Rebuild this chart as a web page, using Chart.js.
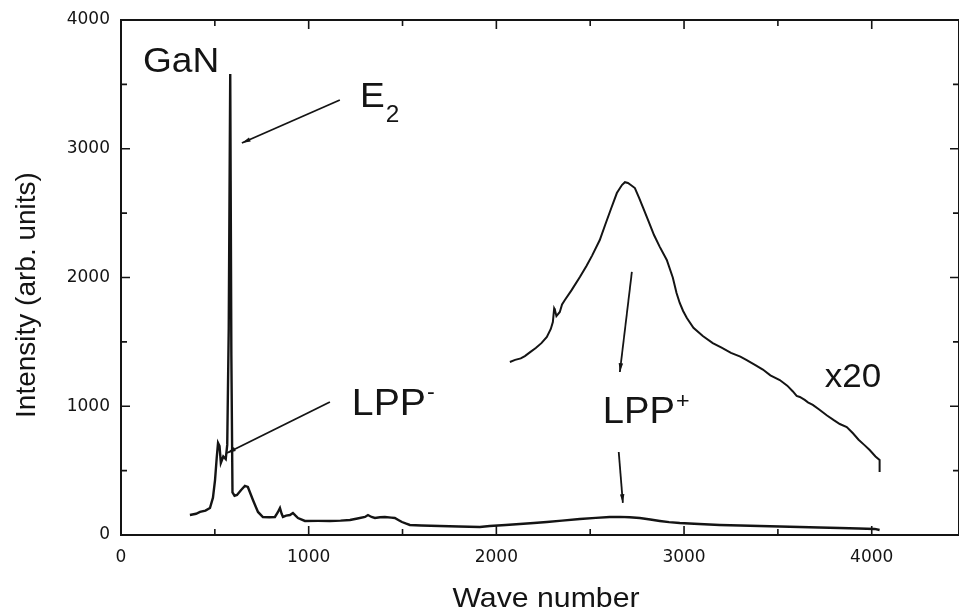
<!DOCTYPE html>
<html>
<head>
<meta charset="utf-8">
<script src="https://cdn.jsdelivr.net/npm/chart.js@4/dist/chart.umd.min.js"></script>
<style>
  html, body { margin: 0; padding: 0; background: #fff; }
  #wrap { width: 959px; height: 614px; }
</style>
</head>
<body>
<div id="wrap"><canvas id="chart" width="959" height="614"></canvas></div>
<script>
// raman spectrum
const mainWave = [367, 400, 421, 450, 474, 490, 501, 510, 517, 525, 532, 545, 558, 566, 574, 582, 588, 594, 605, 618, 640, 660, 676, 690, 703, 718, 730, 756, 790, 820, 835, 847, 856, 863, 880, 900, 916, 930, 943, 980, 1050, 1113, 1170, 1220, 1260, 1300, 1316, 1335, 1353, 1380, 1406, 1440, 1459, 1480, 1497, 1520, 1539, 1600, 1699, 1800, 1912, 1965, 2050, 2125, 2200, 2269, 2350, 2445, 2530, 2604, 2658, 2710, 2764, 2820, 2871, 2920, 2977, 3080, 3190, 3300, 3403, 3510, 3617, 3720, 3830, 3930, 4016, 4042];
const mainIntensity = [155, 165, 179, 190, 210, 290, 427, 600, 715, 690, 560, 610, 590, 700, 1600, 3580, 1400, 330, 305, 311, 350, 381, 373, 320, 272, 220, 179, 140, 138, 140, 175, 210, 165, 140, 150, 155, 171, 150, 132, 109, 110, 109, 112, 117, 128, 140, 155, 140, 132, 138, 140, 135, 132, 115, 101, 88, 78, 74, 70, 66, 62, 70, 78, 85, 93, 101, 112, 124, 133, 140, 141, 138, 132, 120, 109, 100, 93, 85, 78, 74, 70, 66, 62, 58, 54, 50, 47, 39];

// same region multiplied by 20
const scaledWave = [2072, 2100, 2130, 2152, 2180, 2210, 2240, 2269, 2290, 2301, 2308, 2312, 2320, 2338, 2350, 2365, 2400, 2445, 2480, 2510, 2551, 2580, 2610, 2642, 2669, 2685, 2701, 2720, 2738, 2760, 2780, 2810, 2840, 2870, 2908, 2940, 2960, 2977, 2995, 3015, 3050, 3100, 3153, 3200, 3250, 3300, 3334, 3380, 3420, 3460, 3510, 3550, 3580, 3600, 3617, 3643, 3660, 3686, 3720, 3760, 3800, 3830, 3867, 3900, 3930, 3960, 3989, 4020, 4042, 4042];
const scaledIntensity = [1344, 1360, 1372, 1390, 1420, 1452, 1490, 1538, 1600, 1654, 1760, 1748, 1700, 1732, 1790, 1825, 1900, 2004, 2090, 2170, 2291, 2410, 2530, 2656, 2718, 2740, 2734, 2715, 2695, 2620, 2548, 2440, 2330, 2240, 2136, 2000, 1880, 1802, 1740, 1685, 1610, 1545, 1491, 1455, 1415, 1385, 1359, 1320, 1285, 1240, 1204, 1160, 1115, 1080, 1072, 1049, 1030, 1010, 975, 930, 890, 862, 839, 790, 740, 700, 660, 610, 583, 489];

const xTicks = [0, 500, 1000, 1500, 2000, 2500, 3000, 3500, 4000];
const yTicks = [0, 500, 1000, 1500, 2000, 2500, 3000, 3500, 4000];

// annotation text and pointer lines, in data units
const notes = [
  { text: 'GaN', x: 117, y: 3596, size: 35 },
  { text: 'E', sub: '2', x: 1273, y: 3324, size: 35 },
  { text: 'LPP', sup: '-', x: 1230, y: 932, size: 37 },
  { text: 'LPP', sup: '+', x: 2567, y: 870, size: 36 },
  { text: 'x20', x: 3750, y: 1150, size: 33 }
];
const pointers = [
  [1166, 3379, 644, 3045],
  [1113, 1033, 565, 637],
  [2722, 2043, 2658, 1266],
  [2652, 645, 2674, 249]
];

const ink = '#141414';
const FONT = '"Liberation Sans", Arial, Helvetica, sans-serif';

const decor = {
  id: 'decor',
  afterDraw(chart) {
    const { ctx, chartArea: a, scales: { x, y } } = chart;
    ctx.save();
    ctx.strokeStyle = ink;
    ctx.fillStyle = ink;
    ctx.lineWidth = 2;
    ctx.strokeRect(a.left, a.top, a.right - a.left, a.bottom - a.top);

    ctx.lineWidth = 1.6;
    ctx.beginPath();
    xTicks.forEach(v => {
      const px = x.getPixelForValue(v);
      const len = v % 1000 === 0 ? 9 : 6;
      ctx.moveTo(px, a.bottom); ctx.lineTo(px, a.bottom - len);
      ctx.moveTo(px, a.top); ctx.lineTo(px, a.top + len);
    });
    yTicks.forEach(v => {
      const py = y.getPixelForValue(v);
      const len = v % 1000 === 0 ? 9 : 6;
      ctx.moveTo(a.left, py); ctx.lineTo(a.left + len, py);
      ctx.moveTo(a.right, py); ctx.lineTo(a.right - len, py);
    });
    ctx.stroke();

    // pointers
    ctx.lineWidth = 1.8;
    pointers.forEach(p => {
      const x1 = x.getPixelForValue(p[0]), y1 = y.getPixelForValue(p[1]);
      const x2 = x.getPixelForValue(p[2]), y2 = y.getPixelForValue(p[3]);
      ctx.beginPath();
      ctx.moveTo(x1, y1); ctx.lineTo(x2, y2);
      ctx.stroke();
      const ang = Math.atan2(y2 - y1, x2 - x1);
      ctx.beginPath();
      ctx.moveTo(x2, y2);
      ctx.lineTo(x2 - 9 * Math.cos(ang - 0.25), y2 - 9 * Math.sin(ang - 0.25));
      ctx.lineTo(x2 - 9 * Math.cos(ang + 0.25), y2 - 9 * Math.sin(ang + 0.25));
      ctx.closePath();
      ctx.fill();
    });

    // labels
    ctx.textBaseline = 'alphabetic';
    ctx.textAlign = 'left';
    notes.forEach(n => {
      const px = x.getPixelForValue(n.x), py = y.getPixelForValue(n.y);
      ctx.save();
      ctx.translate(px, py);
      ctx.scale(1.06, 1);
      ctx.font = n.size + 'px ' + FONT;
      ctx.fillText(n.text, 0, 0);
      const w = ctx.measureText(n.text).width;
      if (n.sub) {
        ctx.font = Math.round(n.size * 0.65) + 'px ' + FONT;
        ctx.fillText(n.sub, w + 1, n.size * 0.43);
      }
      if (n.sup) {
        ctx.font = Math.round(n.size * 0.6) + 'px ' + FONT;
        ctx.fillText(n.sup, w + 1, -n.size * 0.42);
      }
      ctx.restore();
    });

    // axis titles
    ctx.font = '28px ' + FONT;
    ctx.textAlign = 'center';
    ctx.save();
    ctx.translate(546, 607);
    ctx.scale(1.08, 1);
    ctx.fillText('Wave number', 0, 0);
    ctx.restore();
    ctx.save();
    ctx.translate(27, 295);
    ctx.rotate(-Math.PI / 2);
    ctx.textBaseline = 'middle';
    ctx.fillText('Intensity (arb. units)', 0, 0);
    ctx.restore();
    ctx.restore();
  }
};

const toPoints = (xs, ys) => xs.map((v, i) => ({ x: v, y: ys[i] }));

new Chart(document.getElementById('chart'), {
  type: 'scatter',
  data: {
    datasets: [
      {
        data: toPoints(mainWave, mainIntensity),
        showLine: true,
        borderColor: ink,
        borderWidth: 2.4,
        pointRadius: 0,
        tension: 0
      },
      {
        data: toPoints(scaledWave, scaledIntensity),
        showLine: true,
        borderColor: ink,
        borderWidth: 2,
        pointRadius: 0,
        tension: 0
      }
    ]
  },
  options: {
    responsive: false,
    animation: false,
    layout: { padding: { top: 20, right: 0, left: 0, bottom: 0 } },
    plugins: { legend: { display: false }, tooltip: { enabled: false } },
    scales: {
      x: {
        type: 'linear',
        min: 0,
        max: 4465,
        grid: { display: false, drawTicks: false },
        border: { display: false },
        afterBuildTicks: s => { s.ticks = xTicks.map(v => ({ value: v })); },
        ticks: {
          padding: 12,
          color: ink,
          autoSkip: false,
          maxRotation: 0,
          minRotation: 0,
          font: { family: '"DejaVu Sans", sans-serif', size: 17 },
          callback: v => (v % 1000 === 0 ? String(v) : '')
        },
        afterFit: s => { s.height = 79; s.paddingRight = 0; s.paddingLeft = 0; }
      },
      y: {
        min: 0,
        max: 4000,
        grid: { display: false, drawTicks: false },
        border: { display: false },
        afterBuildTicks: s => { s.ticks = yTicks.map(v => ({ value: v })); },
        ticks: {
          padding: 11,
          color: ink,
          autoSkip: false,
          font: { family: '"DejaVu Sans", sans-serif', size: 17 },
          callback: v => (v % 1000 === 0 ? String(v) : '')
        },
        afterFit: s => { s.width = 121; s.paddingTop = 0; s.paddingBottom = 0; }
      }
    }
  },
  plugins: [decor]
});
</script>
</body>
</html>
